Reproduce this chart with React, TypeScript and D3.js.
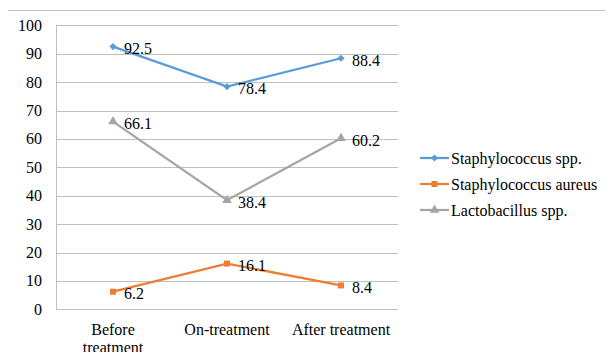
import React from "react";
import * as d3 from "d3";

const categories = ["Before treatment", "On-treatment", "After treatment"];
const categoryLines = [["Before", "treatment"], ["On-treatment"], ["After treatment"]];
const staphSpp = [92.5, 78.4, 88.4];
const staphAureus = [6.2, 16.1, 8.4];
const lactobacillus = [66.1, 38.4, 60.2];
const seriesNames = ["Staphylococcus spp.", "Staphylococcus aureus", "Lactobacillus spp."];
const yTicks = [0, 10, 20, 30, 40, 50, 60, 70, 80, 90, 100];

const colors = ["#5B9BD5", "#ED7D31", "#A5A5A5"];
const shapes = [d3.symbolSquare, d3.symbolSquare, d3.symbolTriangle];
const rotations = [45, 0, 0];

export default function App() {
  const W = 613, H = 360;
  const left = 56, right = 398, top = 25.3, bottom = 309.3;
  const x = d3.scaleBand<string>().domain(categories).range([left, right]);
  const y = d3.scaleLinear().domain([0, 100]).range([bottom, top]);
  const cx = (c: string) => (x(c) as number) + x.bandwidth() / 2;
  const series = [staphSpp, staphAureus, lactobacillus];
  const line = d3.line<number>().x((_, i) => cx(categories[i])).y((d) => y(d));
  const sym = (i: number, size: number) => d3.symbol().type(shapes[i]).size(size)() as string;
  const symSize = [26, 36, 40];
  const ts = () => ({ fontFamily: "Liberation Serif", fontSize: "16px" });

  return (
    <div style={{ margin: "-8px", height: H, overflow: "hidden" }}>
      <svg width={W} height={H}>
        <rect x={7.5} y={10.5} width={W + 10} height={H + 10} fill="none" stroke="#BFBFBF" strokeWidth={1} />
        {yTicks.map((t) => (
          <g key={t}>
            {t > 0 && (
              <line x1={left} x2={right} y1={Math.round(y(t)) + 0.5} y2={Math.round(y(t)) + 0.5} stroke="#BFBFBF" strokeWidth={1} />
            )}
            <text x={42} y={y(t) + 5.5} textAnchor="end" style={ts()}>
              {t}
            </text>
          </g>
        ))}
        <line x1={left + 0.5} x2={left + 0.5} y1={top} y2={bottom} stroke="#BFBFBF" />
        <line x1={left} x2={right} y1={Math.round(bottom) + 0.5} y2={Math.round(bottom) + 0.5} stroke="#BFBFBF" />
        {categories.map((c, i) =>
          categoryLines[i].map((l, j) => (
            <text key={c + j} x={cx(c)} y={334.5 + j * 18} textAnchor="middle" style={ts()}>
              {l}
            </text>
          ))
        )}
        {series.map((s, si) => (
          <g key={si}>
            <path d={line(s) as string} fill="none" stroke={colors[si]} strokeWidth={2.25} />
            {s.map((v, i) => (
              <path
                key={i}
                d={sym(si, symSize[si])}
                transform={`translate(${cx(categories[i])},${y(v)}) rotate(${rotations[si]})`}
                fill={colors[si]}
              />
            ))}
            {s.map((v, i) => (
              <text key={"t" + i} x={cx(categories[i]) + 11} y={y(v) + 7.5} style={ts()}>
                {v.toFixed(1)}
              </text>
            ))}
          </g>
        ))}
        {seriesNames.map((n, i) => {
          const ly = 158 + i * 26;
          return (
            <g key={n}>
              <line x1={420} x2={449} y1={ly} y2={ly} stroke={colors[i]} strokeWidth={2.25} />
              <path d={sym(i, symSize[i])} transform={`translate(434.5,${ly}) rotate(${rotations[i]})`} fill={colors[i]} />
              <text x={451} y={ly + 5.5} style={ts()}>
                {n}
              </text>
            </g>
          );
        })}
      </svg>
    </div>
  );
}
